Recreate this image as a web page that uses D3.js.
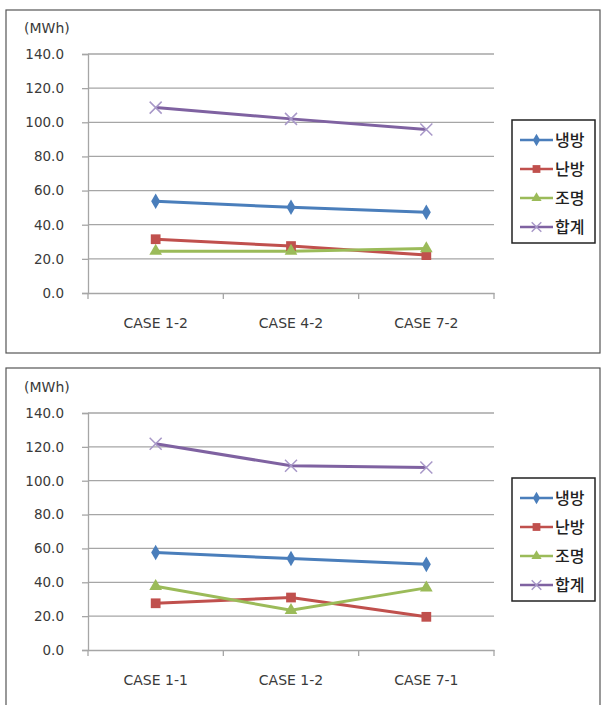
<!DOCTYPE html>
<html>
<head>
<meta charset="utf-8">
<script src="https://cdn.jsdelivr.net/npm/d3@7"></script>
<style>
  body { margin: 0; background: #fff; }
  text { font-family: "DejaVu Sans", sans-serif; }
  .kr { font-family: "Noto Sans CJK KR", sans-serif; }
</style>
</head>
<body>
<script>
// DATA
const seriesNames = ["냉방", "난방", "조명", "합계"];
const yTicks = [0, 20, 40, 60, 80, 100, 120, 140];

const casesTop = ["CASE 1-2", "CASE 4-2", "CASE 7-2"];
const coolingTop = [53.7, 50.2, 47.3];
const heatingTop = [31.5, 27.5, 22.2];
const lightingTop = [24.5, 24.5, 26.0];
const totalTop = [108.6, 102.0, 95.8];

const casesBottom = ["CASE 1-1", "CASE 1-2", "CASE 7-1"];
const coolingBottom = [57.6, 54.0, 50.6];
const heatingBottom = [27.6, 31.0, 19.6];
const lightingBottom = [37.6, 23.5, 36.7];
const totalBottom = [121.8, 108.8, 107.8];

const colors = ["#4a7ebb", "#c0504d", "#9bbb59", "#7f62a1"];
const markerColors = ["#4a7ebb", "#c0504d", "#9bbb59", "#a898c8"];
const markerTypes = ["diamond", "square", "triangle", "x"];

const svg = d3.select("body").append("svg")
    .attr("width", 602)
    .attr("height", 705);

function drawMarker(g, type, x, y, i, k) {
    if (type === "x") {
        const s = 6 * k;
        g.append("path")
            .attr("d", `M${x - s},${y - s}L${x + s},${y + s}M${x - s},${y + s}L${x + s},${y - s}`)
            .attr("stroke", markerColors[i])
            .attr("stroke-width", 1.5)
            .attr("fill", "none");
        return;
    }
    const sym = type === "diamond" ? d3.symbolDiamond : type === "square" ? d3.symbolSquare : d3.symbolTriangle;
    const size = (type === "diamond" ? 70 : type === "square" ? 95 : 70) * k * k;
    g.append("path")
        .attr("d", d3.symbol().type(sym).size(size)())
        .attr("transform", `translate(${x},${y})`)
        .attr("fill", markerColors[i]);
}

// FUNCTION TO DRAW ONE CHART
function drawChart(cfg) {
    const g = svg.append("g");

    // frame
    g.append("rect")
        .attr("x", cfg.frame[0]).attr("y", cfg.frame[1])
        .attr("width", cfg.frame[2]).attr("height", cfg.frame[3])
        .attr("fill", "#fff")
        .attr("stroke", "#555")
        .attr("stroke-width", 1.2);

    const x = d3.scaleBand()
        .domain(cfg.cases)
        .range([88, 494]);

    const y = d3.scaleLinear()
        .domain([0, 140])
        .range([cfg.bottom, cfg.top]);

    // grid lines
    g.append("g").selectAll("line")
        .data(yTicks.slice(1))
        .enter().append("line")
        .attr("x1", 88).attr("x2", 494)
        .attr("y1", d => y(d)).attr("y2", d => y(d))
        .attr("stroke", "#a6a6a6")
        .attr("stroke-width", 1.3);

    // y axis
    const yAxis = d3.axisLeft(y)
        .tickValues(yTicks)
        .tickFormat(d3.format(".1f"))
        .tickSize(6)
        .tickPadding(18);

    const yg = g.append("g")
        .attr("transform", "translate(88,0)")
        .call(yAxis);
    yg.select(".domain").attr("stroke", "#a6a6a6").attr("stroke-width", 1.3);
    yg.selectAll(".tick line").attr("stroke", "#a6a6a6").attr("stroke-width", 1.3);
    yg.selectAll(".tick text")
        .attr("fill", "#3a3a3a")
        .style("font-family", "DejaVu Sans")
        .style("font-size", "13.5px");

    // x axis
    const xAxis = d3.axisBottom(x)
        .tickSize(0)
        .tickPadding(25);

    const xg = g.append("g")
        .attr("transform", `translate(0,${cfg.bottom})`)
        .call(xAxis);
    xg.select(".domain").attr("stroke", "#a6a6a6").attr("stroke-width", 1.3);
    xg.selectAll(".tick text")
        .attr("fill", "#3a3a3a")
        .style("font-family", "DejaVu Sans")
        .style("font-size", "14px");

    // x tick marks at category boundaries
    const bounds = cfg.cases.map(c => x(c)).concat([x.range()[1]]);
    xg.selectAll(".bound")
        .data(bounds)
        .enter().append("line")
        .attr("x1", d => d).attr("x2", d => d)
        .attr("y1", 0).attr("y2", 6)
        .attr("stroke", "#a6a6a6")
        .attr("stroke-width", 1.3);

    // unit label
    g.append("text")
        .attr("x", 24)
        .attr("y", cfg.top - 21)
        .attr("fill", "#3a3a3a")
        .style("font-size", "14px")
        .text("(MWh)");

    // series lines
    const line = d3.line()
        .x((d, j) => x(cfg.cases[j]) + x.bandwidth() / 2)
        .y(d => y(d));

    cfg.series.forEach((vals, i) => {
        g.append("path")
            .datum(vals)
            .attr("d", line)
            .attr("fill", "none")
            .attr("stroke", colors[i])
            .attr("stroke-width", 3);
    });
    cfg.series.forEach((vals, i) => {
        vals.forEach((v, j) => {
            drawMarker(g, markerTypes[i], x(cfg.cases[j]) + x.bandwidth() / 2, y(v), i, 1);
        });
    });

    // legend
    const legend = g.append("g")
        .attr("transform", `translate(512,${cfg.legendTop})`);

    legend.append("rect")
        .attr("width", 83)
        .attr("height", 123)
        .attr("fill", "#fff")
        .attr("stroke", "#222")
        .attr("stroke-width", 1.5);

    seriesNames.forEach((name, i) => {
        const ly = 20 + i * 29;
        legend.append("line")
            .attr("x1", 8).attr("x2", 41)
            .attr("y1", ly).attr("y2", ly)
            .attr("stroke", colors[i])
            .attr("stroke-width", 2.5);
        drawMarker(legend, markerTypes[i], 24.5, ly, i, 0.8);
        legend.append("text")
            .attr("class", "kr")
            .attr("x", 43)
            .attr("y", ly)
            .attr("dy", "0.36em")
            .attr("fill", "#222")
            .style("font-size", "16px")
            .style("font-weight", 500)
            .text(name);
    });
}

drawChart({
    frame: [6, 10, 594, 343],
    top: 54,
    bottom: 293,
    cases: casesTop,
    series: [coolingTop, heatingTop, lightingTop, totalTop],
    legendTop: 120
});

drawChart({
    frame: [6, 368, 594, 345],
    top: 413,
    bottom: 650,
    cases: casesBottom,
    series: [coolingBottom, heatingBottom, lightingBottom, totalBottom],
    legendTop: 478
});
</script>
</body>
</html>
